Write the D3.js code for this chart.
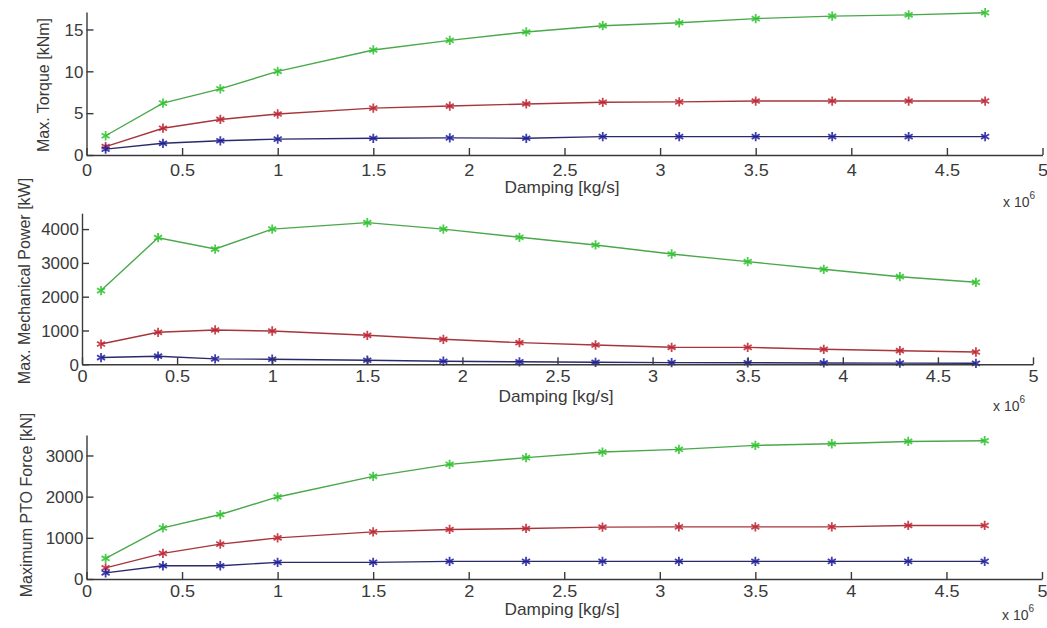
<!DOCTYPE html>
<html>
<head>
<meta charset="utf-8">
<script src="https://cdn.jsdelivr.net/npm/d3@7"></script>
<style>
  html, body { margin: 0; padding: 0; background: #fff; }
  svg { display: block; font-family: "Liberation Sans", Arial, sans-serif; }
  .axis path, .axis line { stroke: #3a3a3a; stroke-width: 1.4; }
  .axis text { fill: #3a3a3a; font-size: 16px; }
  .lbl { fill: #3a3a3a; font-size: 16px; }
</style>
</head>
<body>
<svg id="chart" width="1047" height="628"></svg>
<script>
// ---- data (damping in units of 10^6 kg/s) ----
const damping = [0.1, 0.4, 0.7, 1.0, 1.5, 1.9, 2.3, 2.7, 3.1, 3.5, 3.9, 4.3, 4.7];

const torqueGreen = [2.3, 6.2, 7.9, 10.0, 12.55, 13.7, 14.7, 15.45, 15.8, 16.3, 16.6, 16.75, 17.0];
const torqueRed   = [1.0, 3.2, 4.25, 4.9, 5.6, 5.85, 6.1, 6.3, 6.35, 6.45, 6.45, 6.45, 6.45];
const torqueBlue  = [0.7, 1.4, 1.7, 1.9, 2.0, 2.05, 2.0, 2.2, 2.2, 2.2, 2.2, 2.2, 2.2];

const powerGreen = [2180, 3745, 3410, 4000, 4190, 4000, 3757, 3530, 3263, 3036, 2810, 2592, 2426];
const powerRed   = [600, 946, 1015, 985, 858, 740, 640, 571, 503, 500, 444, 403, 364];
const powerBlue  = [200, 240, 160, 150, 120, 90, 75, 60, 50, 45, 40, 35, 30];

const forceGreen = [500, 1242, 1566, 1993, 2494, 2785, 2947, 3083, 3148, 3245, 3285, 3341, 3358];
const forceRed   = [270, 622, 847, 1000, 1145, 1203, 1227, 1259, 1266, 1266, 1266, 1300, 1300];
const forceBlue  = [150, 322, 322, 404, 404, 428, 428, 428, 428, 428, 428, 428, 428];

const xTicks = [0, 0.5, 1, 1.5, 2, 2.5, 3, 3.5, 4, 4.5, 5];
const xTickLabels = ["0", "0.5", "1", "1.5", "2", "2.5", "3", "3.5", "4", "4.5", "5"];
const torqueTicks = [0, 5, 10, 15];
const powerTicks = [0, 1000, 2000, 3000, 4000];
const forceTicks = [0, 1000, 2000, 3000];

const xLabel = "Damping [kg/s]";
const yLabels = ["Max. Torque [kNm]", "Max. Mechanical Power [kW]", "Maximum PTO Force [kN]"];

// ---- styling / layout ----
const seriesStyle = [
  { line: "#4aa84a", mark: "#2bc42b" },
  { line: "#a6363c", mark: "#bf2230" },
  { line: "#2a2a6a", mark: "#1c1ca0" }
];

const panels = [
  { series: [torqueGreen, torqueRed, torqueBlue], yTicks: torqueTicks, yMax: 17.1,
    x0: 86.5, x1: 1042.5, yBot: 155, yTop: 11.9, pad: 9.5,
    ylabX: 43, ylabY: 85, xlabX: 562, xlabY: 193, multX: 1003, multY: 207 },
  { series: [powerGreen, powerRed, powerBlue], yTicks: powerTicks, yMax: 4470,
    x0: 82, x1: 1033, yBot: 364.3, yTop: 213.2, pad: 6.5,
    ylabX: 24, ylabY: 281, xlabX: 556, xlabY: 402, multX: 993, multY: 411 },
  { series: [forceGreen, forceRed, forceBlue], yTicks: forceTicks, yMax: 3500,
    x0: 86.5, x1: 1042, yBot: 579, yTop: 434.9, pad: 7,
    ylabX: 26, ylabY: 505, xlabX: 562, xlabY: 615, multX: 1002, multY: 620 }
];

const svg = d3.select("#chart");
const stretch = 1.13;

panels.forEach((p, pi) => {
  const x = d3.scaleLinear().domain([0, 5]).range([p.x0, p.x1]);
  const y = d3.scaleLinear().domain([0, p.yMax]).range([p.yBot, p.yTop]);

  // series
  p.series.forEach((vals, si) => {
    const pts = damping.map((d, i) => [d, vals[i]]);
    const st = seriesStyle[si];
    svg.append("path")
      .datum(pts)
      .attr("fill", "none")
      .attr("stroke", st.line)
      .attr("stroke-width", 1.4)
      .attr("d", d3.line().x(d => x(d[0])).y(d => y(d[1])));
    const sym = d3.symbol().type(d3.symbolAsterisk).size(60);
    svg.append("g").selectAll("path")
      .data(pts)
      .join("path")
      .attr("transform", d => `translate(${x(d[0])},${y(d[1])})`)
      .attr("d", sym)
      .attr("fill", "none")
      .attr("stroke", st.mark)
      .attr("stroke-width", 1.8)
      .attr("stroke-opacity", 0.85);
  });

  // x axis
  const xa = svg.append("g")
    .attr("class", "axis")
    .attr("transform", `translate(0,${p.yBot})`)
    .call(d3.axisBottom(x).tickValues(xTicks)
      .tickFormat((d, i) => xTickLabels[i])
      .tickSize(-7).tickSizeOuter(0).tickPadding(p.pad));
  xa.selectAll(".tick text").attr("transform", `scale(${stretch},1)`);

  // y axis (extends to top)
  const ya = svg.append("g")
    .attr("class", "axis")
    .attr("transform", `translate(${p.x0},0)`)
    .call(d3.axisLeft(y).tickValues(p.yTicks)
      .tickFormat(d3.format("d"))
      .tickSize(-7).tickSizeOuter(0).tickPadding(3));
  ya.selectAll(".tick text").attr("dy", "0.36em")
    .attr("transform", `scale(1.06,1)`);

  // labels
  svg.append("text").attr("class", "lbl")
    .attr("transform", `translate(${p.xlabX},${p.xlabY}) scale(1.08,1)`)
    .attr("text-anchor", "middle").text(xLabel);

  svg.append("text").attr("class", "lbl")
    .attr("transform", `translate(${p.ylabX},${p.ylabY}) rotate(-90)`)
    .attr("text-anchor", "middle").attr("dy", "0.35em")
    .text(yLabels[pi]);

  const m = svg.append("text").attr("class", "lbl")
    .attr("x", p.multX).attr("y", p.multY).style("font-size", "14px");
  m.append("tspan").text("x 10");
  m.append("tspan").attr("dy", -8).style("font-size", "10px").text("6");
});
</script>
</body>
</html>
